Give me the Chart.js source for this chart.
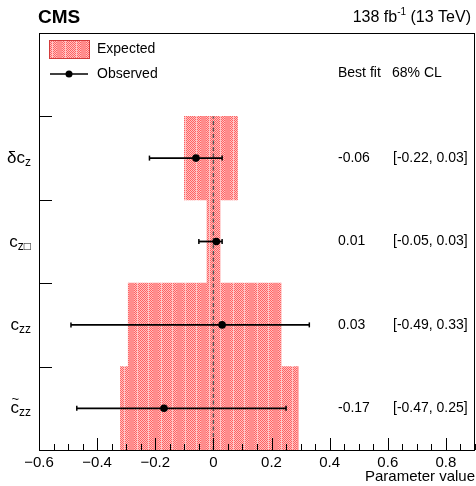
<!DOCTYPE html>
<html>
<head>
<meta charset="utf-8">
<script src="https://cdn.jsdelivr.net/npm/chart.js@4/dist/chart.umd.min.js"></script>
<style>
  html, body { margin: 0; padding: 0; background: #fff; overflow: hidden; }
  #wrap { width: 476px; height: 486px; position: relative; }
</style>
</head>
<body>
<div id="wrap"><canvas id="chart"></canvas></div>
<script>
// parameters, top to bottom
const categories = ['δc', 'c', 'c', 'c'];
const subscripts = ['z', 'z□', 'zz', 'zz'];
const hasTilde = [false, false, false, true];

// observed best fit and 68% CL interval
const bestFit = [-0.06, 0.01, 0.03, -0.17];
const obsLow = [-0.22, -0.05, -0.49, -0.47];
const obsHigh = [0.03, 0.03, 0.33, 0.25];

// expected 68% CL band
const expLow = [-0.10, -0.022, -0.293, -0.32];
const expHigh = [0.083, 0.024, 0.234, 0.292];

// x axis labelled ticks
const xTickValues = [-0.6, -0.4, -0.2, 0, 0.2, 0.4, 0.6, 0.8];

const FONT = '"Liberation Sans", Arial, Helvetica, sans-serif';

// row centre on the y scale (one unit per row, top unit kept for the legend)
const rowY = categories.map((_, i) => categories.length - i - 0.5);

// red dotted fill, like the ROOT hatch
function makePattern() {
	const c = document.createElement('canvas');
	c.width = 24;
	c.height = 4;
	const g = c.getContext('2d');
	for (let x = 0; x < 24; x++) {
		for (let y = 0; y < 4; y++) {
			let col;
			if (x === 4 || x === 17) col = '#ffc4c4';
			else if (x >= 9 && x < 14) col = '#ff8c8c';
			else col = (x + y) % 2 === 0 ? '#ff6262' : '#ffc0c0';
			g.fillStyle = col;
			g.fillRect(x, y, 1, 1);
		}
	}
	return g.createPattern(c, 'repeat');
}
const bandFill = makePattern();

const datasets = [];

// observed points (first = drawn on top)
datasets.push({
	type: 'scatter',
	data: bestFit.map((v, i) => ({ x: v, y: rowY[i] })),
	pointRadius: 3.8,
	pointBackgroundColor: '#000',
	pointBorderColor: '#000',
	pointBorderWidth: 0
});

// observed error bars
bestFit.forEach((_, i) => {
	datasets.push({
		type: 'line',
		data: [{ x: obsLow[i], y: rowY[i] }, { x: obsHigh[i], y: rowY[i] }],
		borderColor: '#000',
		borderWidth: 1.8,
		pointStyle: 'line',
		rotation: 90,
		pointRadius: 2.5,
		pointBorderWidth: 1.5,
		pointBorderColor: '#000'
	});
});

// dashed line at zero
datasets.push({
	type: 'line',
	data: [{ x: 0, y: 0 }, { x: 0, y: categories.length }],
	borderColor: '#555',
	borderWidth: 1.4,
	borderDash: [4, 2.5],
	pointRadius: 0
});

// expected bands
datasets.push({
	type: 'bar',
	indexAxis: 'y',
	data: expLow.map((lo, i) => ({ x: [lo, expHigh[i]], y: rowY[i] })),
	backgroundColor: bandFill,
	borderWidth: 0,
	barPercentage: 1,
	categoryPercentage: 1
});

const fmt = v => v.toFixed(2);

const decorations = {
	id: 'decorations',
	afterDatasetsDraw(chart) {
		const { ctx, chartArea: a, scales: { x, y } } = chart;
		ctx.save();

		// inner ticks
		ctx.strokeStyle = '#000';
		ctx.lineWidth = 1;
		ctx.beginPath();
		for (let k = -12; k <= 18; k++) {
			const px = Math.round(x.getPixelForValue(k * 0.05)) + 0.5;
			const len = k % 4 === 0 ? 12 : 6;
			ctx.moveTo(px, a.bottom);
			ctx.lineTo(px, a.bottom - len);
		}
		for (let k = 1; k < categories.length + 1; k++) {
			const py = Math.round(y.getPixelForValue(k)) + 0.5;
			ctx.moveTo(a.left, py);
			ctx.lineTo(a.left + 13, py);
		}
		ctx.stroke();

		// frame
		ctx.strokeRect(Math.round(a.left) + 0.5, Math.round(a.top) + 0.5,
			Math.round(a.right - a.left) - 1, Math.round(a.bottom - a.top));

		// y labels with subscripts
		ctx.fillStyle = '#000';
		ctx.textBaseline = 'alphabetic';
		categories.forEach((name, i) => {
			const yc = y.getPixelForValue(rowY[i]);
			ctx.font = '17px ' + FONT;
			const w1 = ctx.measureText(name).width;
			ctx.font = '12px ' + FONT;
			const w2 = ctx.measureText(subscripts[i]).width;
			const x0 = 31 - w1 - w2;
			ctx.font = '17px ' + FONT;
			ctx.textAlign = 'left';
			ctx.fillText(name, x0, yc + 5);
			if (hasTilde[i]) {
				ctx.font = '13px ' + FONT;
				ctx.textAlign = 'center';
				ctx.fillText('~', x0 + w1 / 2 + 0.5, yc - 5);
				ctx.textAlign = 'left';
			}
			ctx.font = '12px ' + FONT;
			ctx.fillText(subscripts[i], x0 + w1, yc + 8);
		});

		// best fit column
		ctx.font = '14px ' + FONT;
		ctx.textBaseline = 'middle';
		ctx.textAlign = 'left';
		ctx.fillText('Best fit', 338, 73);
		ctx.fillText('68% CL', 392, 73);
		bestFit.forEach((v, i) => {
			const yc = y.getPixelForValue(rowY[i]);
			ctx.fillText(fmt(v), 338, yc);
			ctx.fillText('[' + fmt(obsLow[i]) + ', ' + fmt(obsHigh[i]) + ']', 393, yc);
		});

		// legend
		ctx.fillStyle = bandFill;
		ctx.fillRect(49, 40, 40, 18);
		ctx.strokeStyle = '#d23c3c';
		ctx.strokeRect(49.5, 40.5, 40, 18);
		ctx.fillStyle = '#000';
		ctx.fillText('Expected', 97, 49.5);
		ctx.strokeStyle = '#000';
		ctx.lineWidth = 1.5;
		ctx.beginPath();
		ctx.moveTo(50, 74);
		ctx.lineTo(88, 74);
		ctx.stroke();
		ctx.beginPath();
		ctx.arc(69, 74, 3.5, 0, Math.PI * 2);
		ctx.fill();
		ctx.fillText('Observed', 97, 74.5);

		// header
		ctx.textBaseline = 'alphabetic';
		ctx.font = 'bold 19px ' + FONT;
		ctx.fillText('CMS', 38, 23);
		ctx.textAlign = 'right';
		ctx.font = '16px ' + FONT;
		const tail = ' (13 TeV)';
		const wt = ctx.measureText(tail).width;
		ctx.fillText(tail, 471, 22);
		ctx.font = '10px ' + FONT;
		const ws = ctx.measureText('-1').width;
		ctx.fillText('-1', 471 - wt, 15);
		ctx.font = '16px ' + FONT;
		ctx.fillText('138 fb', 471 - wt - ws, 22);

		ctx.restore();
	}
};

new Chart(document.getElementById('chart'), {
	type: 'scatter',
	data: { datasets },
	options: {
		responsive: true,
		maintainAspectRatio: false,
		animation: false,
		layout: { autoPadding: false, padding: { top: 33, right: 1, left: 0, bottom: 0 } },
		plugins: { legend: { display: false }, tooltip: { enabled: false } },
		scales: {
			x: {
				type: 'linear',
				min: -0.6,
				max: 0.9,
				offset: false,
				afterBuildTicks: s => { s.ticks = xTickValues.map(v => ({ value: v })); },
				afterFit: s => {
					s.height = 36;
					s.paddingLeft = 0;
					s.paddingRight = 0;
				},
				grid: { display: false, drawTicks: false },
				border: { display: false },
				ticks: {
					autoSkip: false,
					padding: 4,
					color: '#000',
					font: { family: FONT, size: 15 },
					maxRotation: 0,
					callback: v => {
						if (Math.abs(v) < 1e-9) return '0';
						return (v < 0 ? '\u2212' : '') + Math.abs(v).toFixed(1);
					}
				},
				title: {
					display: true,
					text: 'Parameter value',
					align: 'end',
					color: '#000',
					font: { family: FONT, size: 15 },
					padding: 0
				}
			},
			y: {
				type: 'linear',
				min: 0,
				max: categories.length + 1,
				offset: false,
				afterFit: s => { s.width = 39; },
				grid: { display: false, offset: false, drawTicks: false },
				border: { display: false },
				ticks: { display: false, stepSize: 1 }
			}
		}
	},
	plugins: [decorations]
});
</script>
</body>
</html>
